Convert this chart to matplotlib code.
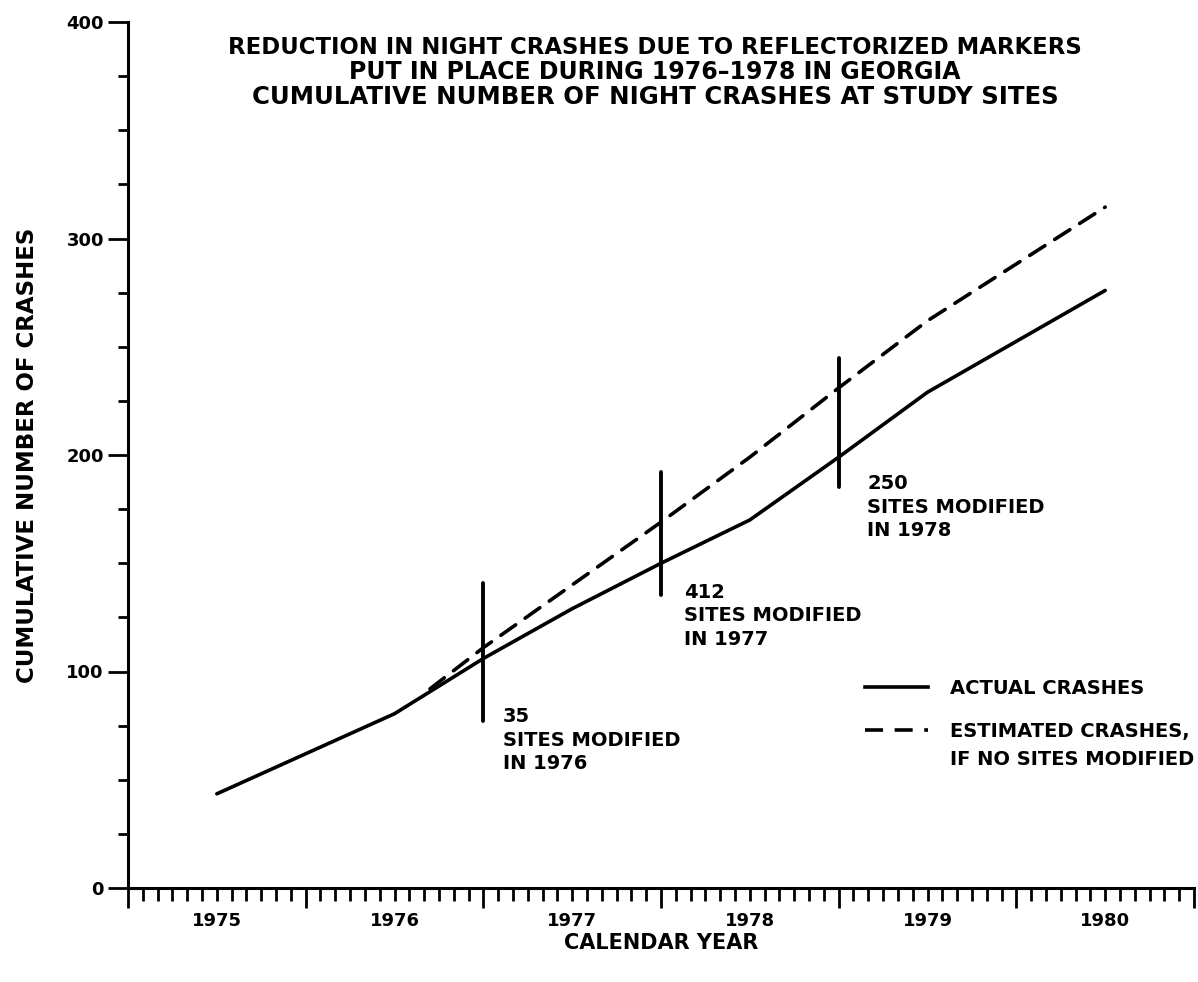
import matplotlib
matplotlib.use("Agg")
import matplotlib.pyplot as plt
import numpy as np
from matplotlib.ticker import MultipleLocator, FixedLocator, NullFormatter
from matplotlib.lines import Line2D

# ---- data ----
actual_x = [1975.5, 1976.5, 1977.0, 1977.5, 1978.0, 1978.5, 1979.0, 1979.5, 1980.5]
actual_y = [43.5, 80.5, 106, 129, 150, 170, 199, 229, 276]
est_x = [1976.7, 1977.0, 1977.5, 1978.0, 1978.5, 1979.0, 1979.5, 1980.5]
est_y = [92, 111, 140, 169, 199, 231, 262, 314.5]
marker_x = [1977.0, 1978.0, 1979.0]
marker_lo = [77, 135.5, 185]
marker_hi = [141, 192, 245]
marker_sites = ["35", "412", "250"]
marker_years = ["1976", "1977", "1978"]
years = [1975, 1976, 1977, 1978, 1979, 1980]
title_lines = ["REDUCTION IN NIGHT CRASHES DUE TO REFLECTORIZED MARKERS",
               "PUT IN PLACE DURING 1976\u20131978 IN GEORGIA",
               "CUMULATIVE NUMBER OF NIGHT CRASHES AT STUDY SITES"]
legend_labels = ["ACTUAL CRASHES", "ESTIMATED CRASHES,", "IF NO SITES MODIFIED"]

# ---- layout / style ----
label_pos = [(1977.11, 83.5), (1978.13, 141), (1979.16, 191)]  # top-left of annotation blocks
title_sizes = [16.4, 17.0, 17.6]
FS = 14
DASH = (0, (5, 3.2))
W, H = 1198, 982
PX = 72 / 100  # points per pixel
fig = plt.figure(figsize=(W/100, H/100), dpi=100)
ax = fig.add_axes([128/W, 1-888/H, (1194-128)/W, (888-22)/H])
ax.set_xlim(1975, 1981)
ax.set_ylim(0, 400)
for s in ["top", "right"]:
    ax.spines[s].set_visible(False)
for s in ["left", "bottom"]:
    ax.spines[s].set_linewidth(2.2)
    ax.spines[s].set_color("black")

ax.plot(actual_x, actual_y, color="black", lw=2.6, solid_capstyle="round", solid_joinstyle="round")
ax.plot(est_x, est_y, color="black", lw=2.6, linestyle=DASH, dash_capstyle="round")
ax.vlines(marker_x, marker_lo, marker_hi, color="black", lw=2.8, capstyle="round")

for (tx, ty), n, yr in zip(label_pos, marker_sites, marker_years):
    ax.text(tx, ty, f"{n}\nSITES MODIFIED\nIN {yr}", ha="left", va="top",
            fontsize=FS, fontweight="bold", linespacing=1.3)

# ticks
ax.xaxis.set_major_locator(FixedLocator(years + [1981]))
ax.xaxis.set_minor_locator(MultipleLocator(1/12))
ax.xaxis.set_major_formatter(NullFormatter())
ax.tick_params(axis="x", which="major", direction="out", length=20*PX, width=2)
ax.tick_params(axis="x", which="minor", direction="out", length=13*PX, width=2)
for y in years:
    ax.text(y + 0.5, -0.038, str(y), transform=ax.get_xaxis_transform(),
            ha="center", va="center", fontsize=13, fontweight="bold")

ax.yaxis.set_major_locator(MultipleLocator(100))
ax.yaxis.set_minor_locator(MultipleLocator(25))
ax.tick_params(axis="y", which="major", direction="out", length=20*PX, width=2,
               labelsize=13, pad=3)
ax.tick_params(axis="y", which="minor", direction="out", length=10*PX, width=2)
for lbl in ax.get_yticklabels():
    lbl.set_fontweight("bold")

ax.set_xlabel("CALENDAR YEAR", fontsize=15, fontweight="bold", labelpad=14.5)
ax.set_ylabel("CUMULATIVE NUMBER OF CRASHES", fontsize=16.5, fontweight="bold", labelpad=20)

for i, (t, fs) in enumerate(zip(title_lines, title_sizes)):
    fig.text(655/W, 1 - (47 + 25*i)/H, t, ha="center", va="center",
             fontsize=fs, fontweight="bold")

# legend (two parts to match spacing)
prop = {"size": FS, "weight": "bold"}
common = dict(frameon=False, handlelength=3.25, handletextpad=1.13, borderpad=0,
              borderaxespad=0, prop=prop, bbox_transform=fig.transFigure)
leg1 = ax.legend([Line2D([], [], color="black", lw=2.6)], legend_labels[:1],
                 loc="center left", bbox_to_anchor=(865/W, 1-688/H), **common)
ax.add_artist(leg1)
leg2 = ax.legend([Line2D([], [], color="black", lw=2.6, linestyle=DASH),
                  Line2D([], [], color="none")], legend_labels[1:],
                 loc="upper left", bbox_to_anchor=(865/W, 1-722/H),
                 labelspacing=0.45, **common)

fig.savefig("out.png", dpi=100)
